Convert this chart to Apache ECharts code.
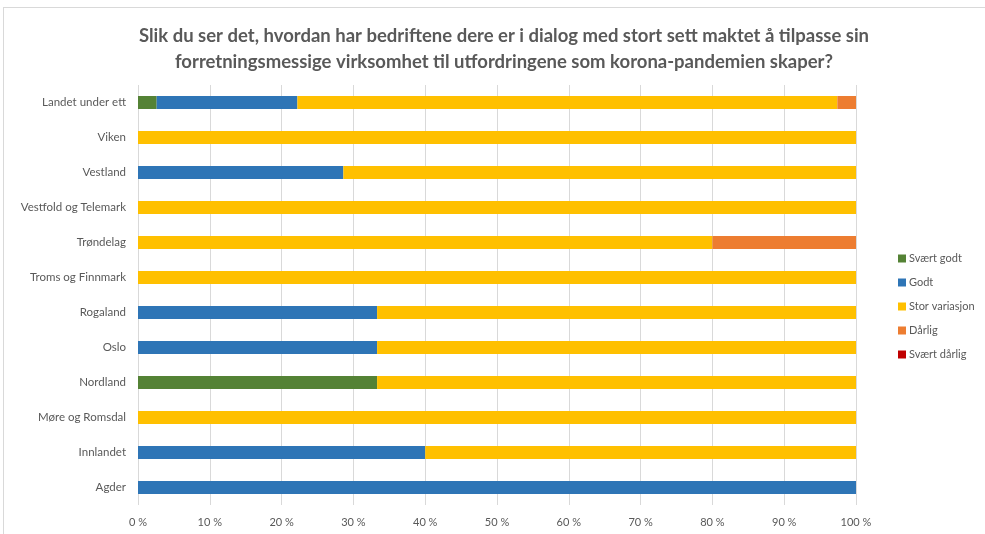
<!DOCTYPE html>
<html>
<head>
<meta charset="utf-8">
<script src="https://cdn.jsdelivr.net/npm/echarts@6/dist/echarts.min.js"></script>
<style>
  html, body { margin: 0; padding: 0; background: #fff; }
  #frame { position: absolute; left: 3px; top: 7px; width: 990px; height: 540px; border: 1px solid #d9d9d9; }
  #chart { width: 985px; height: 534px; position: absolute; left: 0; top: 0; }
</style>
</head>
<body>
<div id="frame"></div>
<div id="chart"></div>
<script>
// categories, bottom to top (as drawn by the category axis)
const regions = ['Agder', 'Innlandet', 'Møre og Romsdal', 'Nordland', 'Oslo', 'Rogaland',
  'Troms og Finnmark', 'Trøndelag', 'Vestfold og Telemark', 'Vestland', 'Viken', 'Landet under ett']

const svaertGodt = [0, 0, 0, 33.3, 0, 0, 0, 0, 0, 0, 0, 2.6]
const godt = [100, 40, 0, 0, 33.3, 33.3, 0, 0, 0, 28.6, 0, 19.6]
const storVariasjon = [0, 60, 100, 66.7, 66.7, 66.7, 100, 80, 100, 71.4, 100, 75.2]
const darlig = [0, 0, 0, 0, 0, 0, 0, 20, 0, 0, 0, 2.6]
const svaertDarlig = [0, 0, 0, 0, 0, 0, 0, 0, 0, 0, 0, 0]

const seriesNames = ['Svært godt', 'Godt', 'Stor variasjon', 'Dårlig', 'Svært dårlig']
const colors = ['#548235', '#2E75B6', '#FFC000', '#ED7D31', '#C00000']
const values = [svaertGodt, godt, storVariasjon, darlig, svaertDarlig]

const chart = echarts.init(document.getElementById('chart'))

chart.setOption({
  animation: false,
  textStyle: { fontFamily: 'Lato, "Open Sans", sans-serif' },
  title: {
    text: 'Slik du ser det, hvordan har bedriftene dere er i dialog med stort sett maktet å tilpasse sin\nforretningsmessige virksomhet til utfordringene som korona-pandemien skaper?',
    left: 499,
    textAlign: 'center',
    top: 18,
    textStyle: { fontSize: 18.5, fontWeight: 'bold', color: '#595959', lineHeight: 26 }
  },
  legend: {
    orient: 'vertical',
    left: 893,
    top: 248,
    itemGap: 13,
    itemWidth: 8,
    itemHeight: 8,
    icon: 'rect',
    textStyle: { fontSize: 11, color: '#595959', padding: [0, 0, 0, -2] },
    data: seriesNames
  },
  grid: { left: 138, right: 129, top: 85, bottom: 29, containLabel: false },
  xAxis: {
    type: 'value',
    min: 0,
    max: 100,
    interval: 10,
    axisLine: { show: false },
    axisTick: { show: false },
    splitLine: { lineStyle: { color: '#d9d9d9' } },
    axisLabel: { formatter: '{value} %', color: '#595959', fontSize: 11, margin: 12 }
  },
  yAxis: {
    type: 'category',
    data: regions,
    axisLine: { show: false },
    axisTick: { show: false },
    axisLabel: { color: '#595959', fontSize: 11.5, margin: 12 }
  },
  series: seriesNames.map((name, i) => ({
    name,
    type: 'bar',
    stack: 'total',
    barWidth: 13,
    itemStyle: { color: colors[i] },
    data: values[i]
  }))
})
</script>
</body>
</html>
